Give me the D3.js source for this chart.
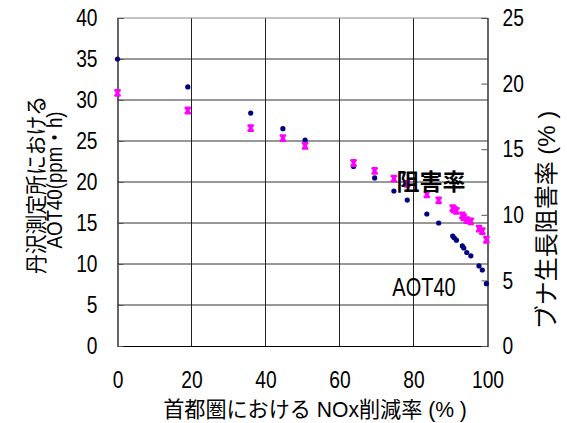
<!DOCTYPE html>
<html lang="ja">
<head>
<meta charset="UTF-8"/>
<title>AOT40 and beech growth inhibition vs NOx reduction</title>
<script src="https://d3js.org/d3.v7.min.js"></script>
<style>
  body { margin: 0; background: #fff; }
  text { font-family: "Liberation Sans", Arial, "Noto Sans CJK JP", sans-serif; fill: #000; }
</style>
</head>
<body>
<div id="chart"></div>
<script>
// NOx reduction in Tokyo area (%)
var nox = [0, 19, 36, 44.7, 50.7, 63.8, 69.5, 74.7, 78.3, 83.6, 86.8, 90.6, 91.0, 91.6, 93.2, 93.6, 94.4, 95.5, 97.7, 98.6, 99.7];
// AOT40 at Tanzawa (ppm h), left axis
var aot40 = [35.0, 31.6, 28.4, 26.5, 25.1, 21.9, 20.5, 18.9, 17.8, 16.1, 15.0, 13.4, 13.2, 12.9, 12.2, 11.95, 11.4, 11.0, 9.76, 9.27, 7.6];
// beech growth inhibition (%), right axis
var inhibition = [19.3, 17.95, 16.6, 15.85, 15.25, 13.95, 13.35, 12.75, 12.35, 11.55, 11.1, 10.5, 10.4, 10.3, 9.95, 9.8, 9.6, 9.5, 8.95, 8.75, 8.1];

var xTicks = [0, 20, 40, 60, 80, 100];
var leftTicks = [0, 5, 10, 15, 20, 25, 30, 35, 40];
var rightTicks = [0, 5, 10, 15, 20, 25];

var W = 567, H = 423;
var pLeft = 117.5, pRight = 487.5, pTop = 18, pBottom = 346;
var narrow = 0.8; // squeeze to look like a narrow face

var x = d3.scaleLinear().domain([0, 100]).range([pLeft, pRight]);
var yL = d3.scaleLinear().domain([0, 40]).range([pBottom, pTop]);
var yR = d3.scaleLinear().domain([0, 25]).range([pBottom, pTop]);

var svg = d3.select("#chart").append("svg")
    .attr("width", W)
    .attr("height", H);

// grid
svg.append("g").selectAll("line")
    .data(leftTicks.slice(1, -1))
    .enter().append("line")
    .attr("x1", pLeft).attr("x2", pRight)
    .attr("y1", function(d) { return yL(d); })
    .attr("y2", function(d) { return yL(d); })
    .attr("stroke", "#333").attr("stroke-width", 1);

svg.append("g").selectAll("line")
    .data(xTicks.slice(1, -1))
    .enter().append("line")
    .attr("y1", pTop).attr("y2", pBottom)
    .attr("x1", function(d) { return x(d); })
    .attr("x2", function(d) { return x(d); })
    .attr("stroke", "#222").attr("stroke-width", 1);

// frame
svg.append("line").attr("x1", pLeft).attr("x2", pRight).attr("y1", pTop).attr("y2", pTop)
    .attr("stroke", "#888");

// axes
var xAxis = d3.axisBottom(x).tickValues(xTicks).tickSize(0).tickPadding(0);
var leftAxis = d3.axisLeft(yL).tickValues(leftTicks).tickSize(-6).tickPadding(0);
var rightAxis = d3.axisRight(yR).tickValues(rightTicks).tickSize(-6).tickPadding(0);

function styleAxis(g) {
    g.select(".domain").attr("stroke", "#000").attr("stroke-width", 1.2);
    g.selectAll(".tick line").attr("stroke", "#555");
    g.selectAll("text").attr("font-size", "24px").attr("fill", "#000");
}

svg.append("g").attr("transform", "translate(0," + pBottom + ")").call(xAxis).call(styleAxis)
    .selectAll(".tick text")
    .attr("x", 0).attr("y", 42).attr("dy", null)
    .attr("transform", "scale(" + narrow + ",1)");
svg.append("g").attr("transform", "translate(" + pLeft + ",0)").call(leftAxis).call(styleAxis)
    .selectAll(".tick text")
    .attr("x", -20 / narrow)
    .attr("transform", "scale(" + narrow + ",1)");
svg.append("g").attr("transform", "translate(" + pRight + ",0)").call(rightAxis).call(styleAxis)
    .selectAll(".tick text")
    .attr("x", 15 / narrow)
    .attr("transform", "scale(" + narrow + ",1)");

// AOT40 points
svg.append("g").selectAll("circle")
    .data(nox)
    .enter().append("circle")
    .attr("cx", function(d) { return x(d); })
    .attr("cy", function(d, i) { return yL(aot40[i]); })
    .attr("r", 2.6)
    .attr("fill", "#000080");

// inhibition points (boxed x markers)
svg.append("g").selectAll("path")
    .data(nox)
    .enter().append("path")
    .attr("transform", function(d, i) { return "translate(" + x(d) + "," + yR(inhibition[i]) + ")"; })
    .attr("d", "M-3,-3H3M-3,3H3M-3,-3L3,3M3,-3L-3,3M0,-3V3M-2,0H2")
    .attr("stroke", "#ff00ff")
    .attr("stroke-width", 1.8)
    .attr("fill", "none");

// series labels
svg.append("text").attr("x", 431).attr("y", 190)
    .attr("text-anchor", "middle").attr("font-size", "23px").attr("font-weight", "bold")
    .style("font-family", "'Noto Sans CJK JP', sans-serif")
    .text("阻害率");
svg.append("text").attr("transform", "translate(424,296) scale(" + narrow + ",1)")
    .attr("text-anchor", "middle").attr("font-size", "25px")
    .text("AOT40");

// axis titles
svg.append("text").attr("transform", "translate(315,417) scale(0.96,1)")
    .attr("text-anchor", "middle").attr("font-size", "22px")
    .text("首都圏における NOx削減率 (% )");

svg.append("text").attr("transform", "translate(44,185) rotate(-90) scale(0.9,1)")
    .attr("text-anchor", "middle").attr("font-size", "22px")
    .text("丹沢測定所における");
svg.append("text").attr("transform", "translate(62,180) rotate(-90) scale(0.85,1)")
    .attr("text-anchor", "middle").attr("font-size", "22px")
    .text("AOT40(ppm・h)");

svg.append("text").attr("transform", "translate(555,220) rotate(-90)")
    .attr("text-anchor", "middle").attr("font-size", "24px")
    .text("ブナ生長阻害率 (% )");
</script>
</body>
</html>
